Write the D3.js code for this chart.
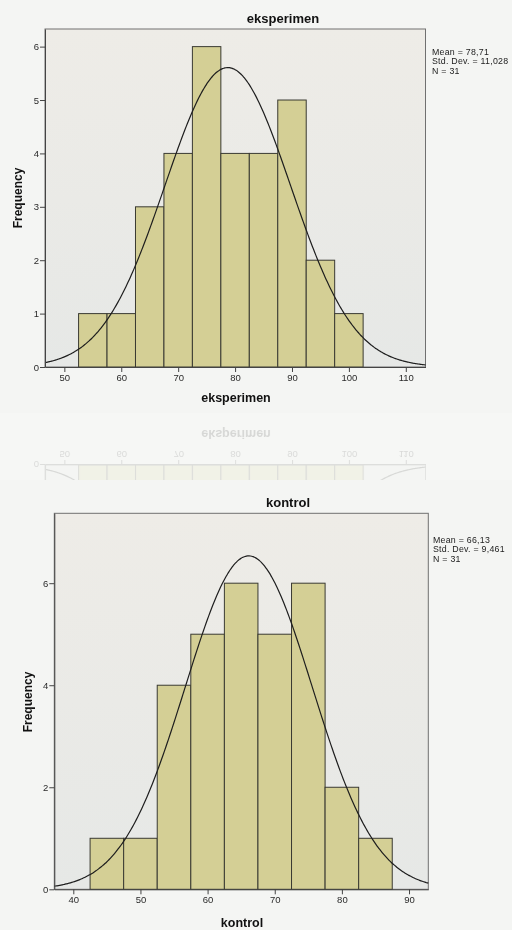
<!DOCTYPE html>
<html><head><meta charset="utf-8">
<script src="https://cdn.jsdelivr.net/npm/d3@7/dist/d3.min.js"></script>
<style>
html,body{margin:0;padding:0;background:#f4f5f3;}
svg{display:block;font-family:"Liberation Sans",Arial,sans-serif;}
</style></head><body>
<svg id="c" width="512" height="930"></svg>
<script>
// ---- data ----
const expBinLower = [52.5, 57.5, 62.5, 67.5, 72.5, 77.5, 82.5, 87.5, 92.5, 97.5];
const expCounts   = [1, 1, 3, 4, 6, 4, 4, 5, 2, 1];
const expStats    = {mean: 78.71, sd: 11.028, n: 31};
const expXTicks   = [50, 60, 70, 80, 90, 100, 110];
const expYTicks   = [0, 1, 2, 3, 4, 5, 6];
const expLegend   = ["Mean = 78,71", "Std. Dev. = 11,028", "N = 31"];

const konBinLower = [42.5, 47.5, 52.5, 57.5, 62.5, 67.5, 72.5, 77.5, 82.5];
const konCounts   = [1, 1, 4, 5, 6, 5, 6, 2, 1];
const konStats    = {mean: 66.13, sd: 9.461, n: 31};
const konXTicks   = [40, 50, 60, 70, 80, 90];
const konYTicks   = [0, 2, 4, 6];
const konLegend   = ["Mean = 66,13", "Std. Dev. = 9,461", "N = 31"];
const binWidth = 5;

const svg = d3.select("#c");

function drawChart(g, o) {
  const x = d3.scaleLinear().domain(o.xDomain).range([o.left, o.right]);
  const y = d3.scaleLinear().domain(o.yDomain).range([o.bottom, o.top]);
  const gradId = "bg" + o.id;
  const grad = g.append("defs").append("linearGradient").attr("id", gradId)
    .attr("x1", 0).attr("x2", 0).attr("y1", 0).attr("y2", 1);
  grad.append("stop").attr("offset", "0%").attr("stop-color", "#eeece7");
  grad.append("stop").attr("offset", "100%").attr("stop-color", "#e6e8e6");
  g.append("rect").attr("x", o.left).attr("y", o.top)
    .attr("width", o.right - o.left).attr("height", o.bottom - o.top)
    .attr("fill", `url(#${gradId})`).attr("stroke", "#707070").attr("stroke-width", 1);
  g.selectAll("rect.bar").data(o.counts).join("rect").attr("class", "bar")
    .attr("x", (d, i) => x(o.binLower[i]))
    .attr("width", (d, i) => x(o.binLower[i] + binWidth) - x(o.binLower[i]))
    .attr("y", d => y(d)).attr("height", d => y(0) - y(d))
    .attr("fill", "#d4cf95").attr("stroke", "#3a3a32").attr("stroke-width", 1);
  const s = o.stats;
  const k = s.n * binWidth / (s.sd * Math.sqrt(2 * Math.PI));
  const xs = d3.range(o.xDomain[0], o.xDomain[1], 0.2).concat([o.xDomain[1]]);
  const line = d3.line().x(d => x(d)).y(d => y(k * Math.exp(-0.5 * Math.pow((d - s.mean) / s.sd, 2)))).curve(d3.curveBasis);
  g.append("path").datum(xs).attr("d", line).attr("fill", "none")
    .attr("stroke", "#1e1e1e").attr("stroke-width", 1.2);
  const ax = g.append("g").attr("transform", `translate(0,${o.bottom})`)
    .call(d3.axisBottom(x).tickValues(o.xTicks).tickFormat(d3.format("d")).tickSize(5).tickPadding(2).tickSizeOuter(0));
  const ay = g.append("g").attr("transform", `translate(${o.left},0)`)
    .call(d3.axisLeft(y).tickValues(o.yTicks).tickFormat(d3.format("d")).tickSize(5).tickPadding(1).tickSizeOuter(0));
  [ax, ay].forEach(a => {
    a.selectAll("text").attr("font-size", 9.5).attr("fill", "#2a2a2a")
      .attr("font-family", '"Liberation Sans",Arial,sans-serif');
    a.selectAll("line").attr("stroke", "#444");
    a.select(".domain").attr("stroke", "#444");
  });
  g.append("text").attr("x", o.titleX).attr("y", o.titleY).attr("text-anchor", "middle")
    .attr("font-size", 13).attr("font-weight", "bold").attr("fill", "#111").text(o.title);
  g.append("text").attr("x", o.xlabX).attr("y", o.xlabY).attr("text-anchor", "middle")
    .attr("font-size", 12.5).attr("font-weight", "bold").attr("fill", "#111").text(o.title);
  g.append("text").attr("transform", `translate(${o.ylabX},${o.ylabY}) rotate(-90)`)
    .attr("text-anchor", "middle").attr("font-size", 12).attr("font-weight", "bold")
    .attr("fill", "#111").text("Frequency");
  g.selectAll("text.leg").data(o.legend).join("text").attr("class", "leg")
    .attr("x", o.legX).attr("y", (d, i) => o.legY + i * 9.4)
    .attr("font-size", 8.8).attr("letter-spacing", 0.25).attr("fill", "#222").text(d => d);
}

const c1 = {id: 1, left: 45, right: 425.5, top: 29, bottom: 367,
  xDomain: [46.6, 113.46], yDomain: [0, 6.33],
  binLower: expBinLower, counts: expCounts, stats: expStats,
  xTicks: expXTicks, yTicks: expYTicks, legend: expLegend, title: "eksperimen",
  titleX: 283, titleY: 23, xlabX: 236, xlabY: 402, ylabX: 22, ylabY: 198, legX: 432, legY: 55};
const c2 = {id: 2, left: 54.3, right: 428.3, top: 513.3, bottom: 889.3,
  xDomain: [37.17, 92.87], yDomain: [0, 7.37],
  binLower: konBinLower, counts: konCounts, stats: konStats,
  xTicks: konXTicks, yTicks: konYTicks, legend: konLegend, title: "kontrol",
  titleX: 288, titleY: 507, xlabX: 242, xlabY: 927, ylabX: 32, ylabY: 702, legX: 433, legY: 543};

svg.append("rect").attr("x", 0).attr("y", 413).attr("width", 512).attr("height", 67).attr("fill", "#f6f7f5");
svg.append("clipPath").attr("id", "refclip").append("rect").attr("x", 0).attr("y", 418).attr("width", 512).attr("height", 62);
const refl = svg.append("g").attr("clip-path", "url(#refclip)").attr("opacity", 0.14)
  .append("g").attr("transform", "translate(0,832) scale(1,-1)");
drawChart(refl, Object.assign({}, c1, {id: 3}));
svg.append("rect").attr("x", 0).attr("y", 480).attr("width", 512).attr("height", 450).attr("fill", "#f4f5f3");

drawChart(svg.append("g"), c1);
drawChart(svg.append("g"), c2);
</script>
</body></html>
